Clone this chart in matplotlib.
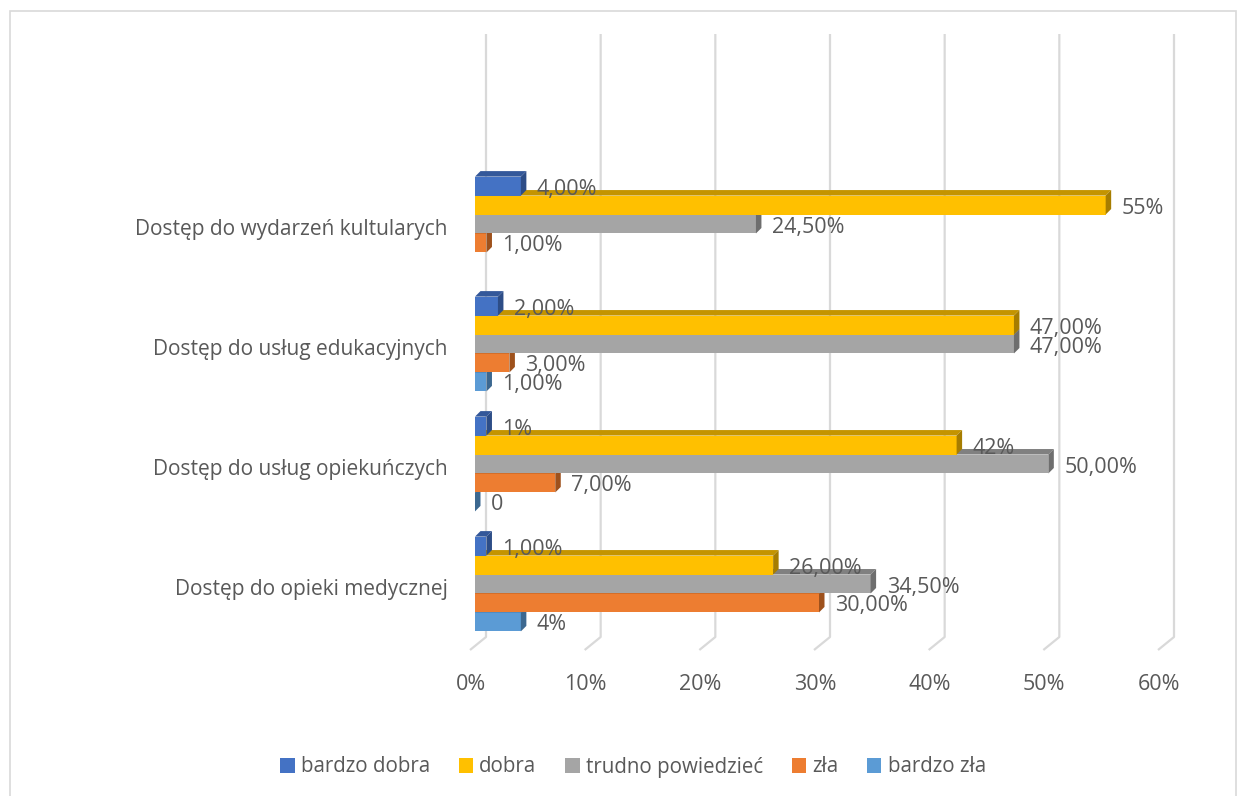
import numpy as np
import matplotlib.pyplot as plt
from matplotlib.patches import Polygon, Patch, Rectangle

plt.rcParams['font.family'] = ['Open Sans', 'DejaVu Sans']

categories = ['Dostęp do opieki medycznej', 'Dostęp do usług opiekuńczych',
              'Dostęp do usług edukacyjnych', 'Dostęp do wydarzeń kultularych']
series = ['bardzo dobra', 'dobra', 'trudno powiedzieć', 'zła', 'bardzo zła']

# values per series, in order of categories (bottom -> top)
bardzo_dobra = [1.0, 1.0, 2.0, 4.0]
dobra = [26.0, 42.0, 47.0, 55.0]
trudno = [34.5, 50.0, 47.0, 24.5]
zla = [30.0, 7.0, 3.0, 1.0]
bardzo_zla = [4.0, 0.0, 1.0, np.nan]

lab_bardzo_dobra = ['1,00%', '1%', '2,00%', '4,00%']
lab_dobra = ['26,00%', '42%', '47,00%', '55%']
lab_trudno = ['34,50%', '50,00%', '47,00%', '24,50%']
lab_zla = ['30,00%', '7,00%', '3,00%', '1,00%']
lab_bardzo_zla = ['4%', '0', '1,00%', '']

xticks = [0, 10, 20, 30, 40, 50, 60]

values = [bardzo_dobra, dobra, trudno, zla, bardzo_zla]
labels = [lab_bardzo_dobra, lab_dobra, lab_trudno, lab_zla, lab_bardzo_zla]
front = ['#4472C4', '#FFC000', '#A5A5A5', '#ED7D31', '#5B9BD5']
topc = ['#34589A', '#C49400', '#808080', '#B85F22', '#4678A6']
sidec = ['#2D4D87', '#A67D00', '#6E6E6E', '#9E511C', '#3C6890']
txt = '#595959'

W, H = 1237, 796
fig = plt.figure(figsize=(W / 100, H / 100), dpi=100)

# axes in pixel geometry
x0, x1 = 475, 1163
ytop, ybot = 34, 650
ax = fig.add_axes([x0 / W, (H - ybot) / H, (x1 - x0) / W, (ybot - ytop) / H])
ax.set_xlim(0, 60)
ppx = (x1 - x0) / 60.0       # pixels per %
ppy = 120.0                  # pixels per category step
yref = 584
y_top_data = (yref - ytop) / ppy
y_bot_data = (yref - ybot) / ppy
ax.set_ylim(y_bot_data, y_top_data)
ax.axis('off')

# 3D depth in data units
d_px = 5.5
dx = d_px / ppx
dy = d_px / ppy

# back wall gridlines with floor slant
for g in xticks:
    xb = g + 11 / ppx
    yb = (yref - 637) / ppy
    ax.plot([xb, xb, g - 5 / ppx], [y_top_data, yb, y_bot_data],
            color='#D9D9D9', lw=1.6, zorder=1, solid_capstyle='butt', clip_on=False)

h = 0.158
pos = np.arange(len(categories))
z = 2
for ci in pos:
    for j in range(len(series) - 1, -1, -1):
        v = values[j][ci]
        if np.isnan(v):
            continue
        yc = ci + 0.316 - h * j
        yb_, yt_ = yc - h / 2, yc + h / 2
        ax.barh(yc, v, height=h, color=front[j], zorder=z, linewidth=0)
        ax.add_patch(Polygon([(0, yt_), (v, yt_), (v + dx, yt_ + dy), (dx, yt_ + dy)],
                             closed=True, facecolor=topc[j], edgecolor='none', zorder=z))
        ax.add_patch(Polygon([(v, yb_), (v + dx, yb_ + dy), (v + dx, yt_ + dy), (v, yt_)],
                             closed=True, facecolor=sidec[j], edgecolor='none', zorder=z))
        z += 1

# data labels
for ci in pos:
    for j in range(len(series)):
        v = values[j][ci]
        if np.isnan(v):
            continue
        yc = ci + 0.316 - h * j
        ax.annotate(labels[j][ci], (v, yc), xytext=(16, -3), textcoords='offset pixels',
                    ha='left', va='center', fontsize=15.5, color=txt, zorder=100)

# category labels
for ci in pos:
    ax.annotate(categories[ci], (0, ci), xytext=(-27, -6), textcoords='offset pixels',
                ha='right', va='center', fontsize=15, color=txt, annotation_clip=False)

# x tick labels
for g in xticks:
    ax.annotate('%d%%' % g, (g, 0), xycoords=('data', 'axes fraction'),
                xytext=(-4, -34), textcoords='offset pixels',
                ha='center', va='center', fontsize=15.5, color=txt, annotation_clip=False)

handles = [Patch(facecolor=c, edgecolor='none') for c in front]
fig.legend(handles, series, loc='center', bbox_to_anchor=(633 / W, 1 - 767 / H),
           ncol=5, frameon=False, fontsize=14.8, labelcolor=txt,
           handlelength=0.7, handleheight=0.7, handletextpad=0.3, columnspacing=1.4)

fig.add_artist(Rectangle((9.5 / W, -0.05), (1235.5 - 9.5) / W, 1.05 - 11.5 / H,
                         transform=fig.transFigure, fill=False, edgecolor='#D9D9D9', lw=1.2))

fig.savefig('out.png', dpi=100)
